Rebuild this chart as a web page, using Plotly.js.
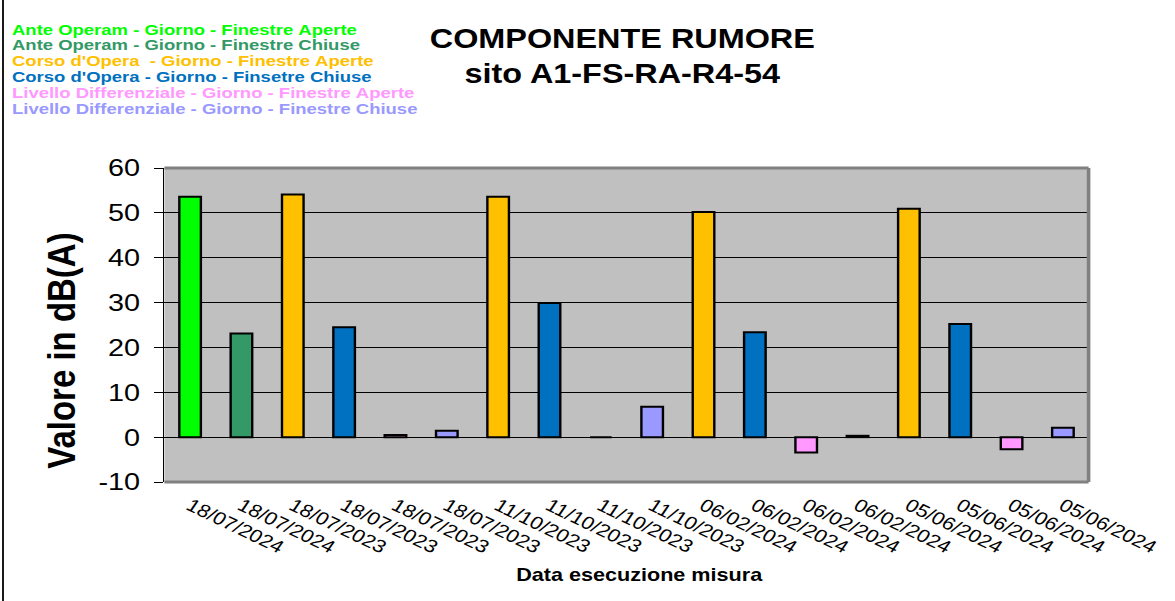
<!DOCTYPE html>
<html>
<head>
<meta charset="utf-8">
<script src="https://cdn.plot.ly/plotly-3.0.1.min.js"></script>
<style>
html,body{margin:0;padding:0;background:#fff;overflow:hidden;width:1175px;height:601px;}
#chart{width:979px;height:601px;transform:scaleX(1.2002);transform-origin:0 0;}
</style>
</head>
<body>
<div id="chart"></div>
<script>
// ---- data ----
var dates = ['18/07/2024','18/07/2024','18/07/2023','18/07/2023','18/07/2023','18/07/2023',
             '11/10/2023','11/10/2023','11/10/2023','11/10/2023',
             '06/02/2024','06/02/2024','06/02/2024','06/02/2024',
             '05/06/2024','05/06/2024','05/06/2024','05/06/2024'];
var values = [53.6, 23.1, 54.1, 24.5, 0.5, 1.4,
              53.6, 29.9, 0.0, 6.8,
              50.2, 23.4, -3.4, 0.3,
              50.9, 25.2, -2.7, 2.1];
var seriesNames = ['Ante Operam - Giorno - Finestre Aperte',
                   'Ante Operam - Giorno - Finestre Chiuse',
                   "Corso d'Opera  - Giorno - Finestre Aperte",
                   "Corso d'Opera - Giorno - Finsetre Chiuse",
                   'Livello Differenziale - Giorno - Finestre Aperte',
                   'Livello Differenziale - Giorno - Finestre Chiuse'];
var seriesOfBar = [0,1,2,3,4,5, 2,3,4,5, 2,3,4,5, 2,3,4,5];
var seriesColors = ['#00FF00','#339966','#FFC000','#0070C0','#FF99FF','#9999FF'];
var yTickVals = [-10, 0, 10, 20, 30, 40, 50, 60];
var yTickText = ['-10', '0', '10', '20', '30', '40', '50', '60'];
var titleLines = ['COMPONENTE RUMORE','sito A1-FS-RA-R4-54'];
var yTitle = 'Valore in dB(A)';
var xTitle = 'Data esecuzione misura';

// ---- geometry helpers (reference pixels -> paper) ----
var S = 1.2002, W = 979, H = 601;
var M = {l:137, r:72, t:168, b:119};
var PW = W - M.l - M.r, PH = H - M.t - M.b;
function px(p){ return (p / S - M.l) / PW; }
function py(p){ return (H - M.b - p) / PH; }

var FONT = 'Liberation Sans, Arial, sans-serif';
var idx = values.map(function(_, i){ return i; });

var traces = seriesNames.map(function(name, s){
  var xs = [], ys = [];
  idx.forEach(function(i){ if (seriesOfBar[i] === s){ xs.push(i); ys.push(values[i]); } });
  return {type:'bar', name:name, x:xs, y:ys, width:0.42,
    marker:{color:seriesColors[s], line:{color:'#000', width:2}},
    showlegend:false, hoverinfo:'skip'};
});

var boundaries = [];
for (var k = 0; k <= dates.length; k++) boundaries.push(k - 0.5);

var annotations = [];
seriesNames.forEach(function(name, s){
  annotations.push({xref:'paper', yref:'paper', x:px(10), y:py(29 + s*15.9), xanchor:'left', yanchor:'middle',
    text:'<b>'+name.replace(/ /g,'&nbsp;')+'</b>', showarrow:false, font:{family:FONT, size:15.4, color:seriesColors[s]}});
});
annotations.push({xref:'paper', yref:'paper', x:px(622), y:py(39), xanchor:'center', yanchor:'middle',
  text:'<b>'+titleLines[0]+'</b>', showarrow:false, font:{family:FONT, size:27, color:'#000'}});
annotations.push({xref:'paper', yref:'paper', x:px(622), y:py(74), xanchor:'center', yanchor:'middle',
  text:'<b>'+titleLines[1]+'</b>', showarrow:false, font:{family:FONT, size:27, color:'#000'}});
annotations.push({xref:'paper', yref:'paper', x:px(61), y:py(350), xanchor:'center', yanchor:'middle', textangle:-90,
  text:'<b>'+yTitle+'</b>', showarrow:false, font:{family:FONT, size:33, color:'#000'}});
annotations.push({xref:'paper', yref:'paper', x:px(640), y:py(575), xanchor:'center', yanchor:'middle',
  text:'<b>'+xTitle+'</b>', showarrow:false, font:{family:FONT, size:18, color:'#000'}});

var shapes = [
  {type:'line', xref:'paper', yref:'paper', x0:0, x1:1, y0:1, y1:1, line:{color:'#808080', width:3}},
  {type:'line', xref:'paper', yref:'paper', x0:1, x1:1, y0:0, y1:1, line:{color:'#808080', width:3}},
  {type:'line', xref:'paper', yref:'paper', x0:0, x1:1, y0:0, y1:0, line:{color:'#808080', width:3}},
  {type:'line', xref:'paper', yref:'paper', x0:px(3), x1:px(3), y0:py(0), y1:py(601), line:{color:'#000', width:1.5}}
];

var layout = {
  width:W, height:H, margin:M,
  paper_bgcolor:'#fff', plot_bgcolor:'#C0C0C0',
  barmode:'overlay', showlegend:false,
  xaxis:{range:[-0.5, dates.length - 0.5], tickmode:'array', tickvals:idx, ticktext:dates,
    tickangle:30, ticks:'', showgrid:false, zeroline:false, showline:false, fixedrange:true,
    tickfont:{family:FONT, size:18, color:'#000'}, ticklabelstandoff:9},
  xaxis2:{overlaying:'x', anchor:'free', position:1/7, range:[-0.5, dates.length - 0.5],
    tickmode:'array', tickvals:boundaries, ticks:'outside', ticklen:6, tickwidth:1, tickcolor:'#000',
    showticklabels:false, showgrid:false, zeroline:false, showline:false},
  yaxis:{range:[-10, 60], tickmode:'array', tickvals:yTickVals, ticktext:yTickText,
    ticks:'outside', ticklen:7, tickwidth:1, tickcolor:'#000', ticklabelstandoff:7,
    showgrid:true, gridcolor:'#000', gridwidth:1, zeroline:true, zerolinecolor:'#000', zerolinewidth:1,
    showline:true, linecolor:'#000', linewidth:1.5,
    tickfont:{family:FONT, size:24, color:'#000'}},
  annotations:annotations, shapes:shapes
};

Plotly.newPlot('chart', traces, layout, {staticPlot:true, displayModeBar:false});
</script>
</body>
</html>
